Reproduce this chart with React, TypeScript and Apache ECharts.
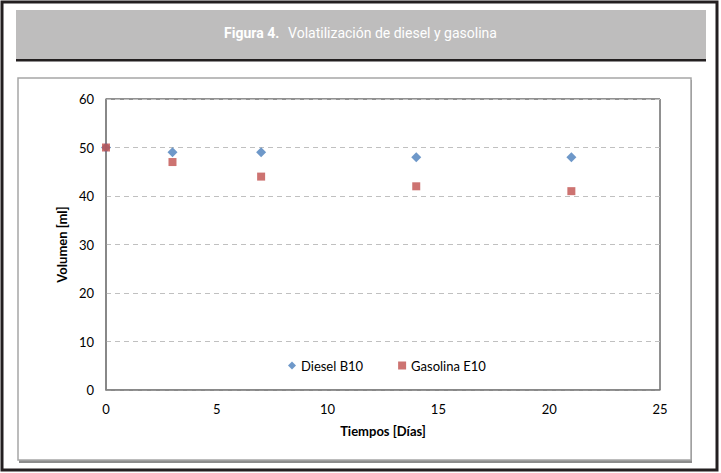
import React, { useEffect, useRef } from "react";
import * as echarts from "echarts";

const dieselDays = [0, 3, 7, 14, 21];
const dieselVol = [50, 49, 49, 48, 48];
const gasolinaDays = [0, 3, 7, 14, 21];
const gasolinaVol = [50, 47, 44, 42, 41];
const seriesNames = ["Diesel B10", "Gasolina E10"];
const titleBold = "Figura 4.";
const titleRest = "Volatilización de diesel y gasolina";
const xName = "Tiempos [Días]";
const yName = "Volumen [ml]";

const FONT = "Lato, 'Open Sans', sans-serif";

export default function App() {
  const ref = useRef<HTMLDivElement>(null);
  useEffect(() => {
    if (!ref.current) return;
    const chart = echarts.init(ref.current, undefined, { renderer: "svg" });
    chart.setOption({
      animation: false,
      backgroundColor: "#ffffff",
      textStyle: { fontFamily: FONT },
      title: {
        text: `{b|${titleBold}}  {n|${titleRest}}`,
        left: "center",
        top: 19,
        textStyle: {
          rich: {
            b: { fontFamily: "Roboto", fontWeight: "bold", fontSize: 14, color: "#ffffff" },
            n: { fontFamily: "Roboto", fontWeight: "normal", fontSize: 14, color: "#ffffff" },
          },
        },
      },
      graphic: [
        {
          type: "rect", z: -10, silent: true,
          shape: { x: 2, y: 2, width: 715, height: 468 },
          style: { fill: "#ffffff", stroke: "#231f20", lineWidth: 3 },
        },
        {
          type: "rect", z: -9, silent: true,
          shape: { x: 16, y: 10, width: 690, height: 49 },
          style: { fill: "#bebdbd" },
        },
        {
          type: "rect", z: -9, silent: true,
          shape: { x: 16, y: 59, width: 690, height: 2.5 },
          style: { fill: "#231f20" },
        },
        {
          type: "rect", z: -9, silent: true,
          shape: { x: 19, y: 80, width: 673, height: 383 },
          style: { fill: "#8c8c8c" },
        },
        {
          type: "rect", z: -8, silent: true,
          shape: { x: 18, y: 78, width: 673, height: 382 },
          style: { fill: "#ffffff", stroke: "#a6a6a6", lineWidth: 1.5 },
        },
      ],
      legend: {
        left: 283,
        top: 354,
        itemWidth: 8,
        itemHeight: 8,
        itemGap: 35,
        textStyle: { fontFamily: FONT, fontSize: 13, color: "#000" },
        data: [
          { name: seriesNames[0], icon: "diamond" },
          { name: seriesNames[1], icon: "rect" },
        ],
      },
      grid: {
        left: 106,
        top: 99,
        width: 554,
        height: 291,
        show: true,
        borderColor: "#222",
        borderWidth: 1,
        backgroundColor: "transparent",
      },
      xAxis: {
        type: "value",
        min: 0,
        max: 25,
        interval: 5,
        name: xName,
        nameLocation: "middle",
        nameGap: 34,
        nameTextStyle: { fontFamily: FONT, fontWeight: "bold", fontSize: 13, color: "#000" },
        axisLine: { show: true, lineStyle: { color: "#868686", width: 1.5 } },
        axisTick: { show: false },
        axisLabel: { fontFamily: FONT, fontSize: 13, color: "#000", margin: 12 },
        splitLine: { show: false },
      },
      yAxis: {
        type: "value",
        min: 0,
        max: 60,
        interval: 10,
        name: yName,
        nameLocation: "middle",
        nameGap: 29,
        nameRotate: 90,
        nameTextStyle: { fontFamily: FONT, fontWeight: "bold", fontSize: 13, color: "#000" },
        axisLine: { show: true, lineStyle: { color: "#868686", width: 1.5 } },
        axisTick: { show: false },
        axisLabel: { fontFamily: FONT, fontSize: 13, color: "#000", margin: 12 },
        splitLine: { show: true, lineStyle: { color: "#c0c0c0", type: [5, 4], width: 1 } },
      },
      series: [
        {
          name: seriesNames[0],
          type: "scatter",
          symbol: "diamond",
          symbolSize: [10, 10],
          itemStyle: { color: "#4a7ebb" },
          data: dieselDays.map((d, i) => [d, dieselVol[i]]),
          z: 3,
        },
        {
          name: seriesNames[1],
          type: "scatter",
          symbol: "rect",
          symbolSize: [8, 8],
          itemStyle: { color: "#c0504d" },
          data: gasolinaDays.map((d, i) => [d, gasolinaVol[i]]),
          z: 4,
        },
      ],
    });
    return () => chart.dispose();
  }, []);
  return (
    <div
      ref={ref}
      style={{ position: "absolute", left: 0, top: 0, width: 721, height: 473 }}
    />
  );
}
